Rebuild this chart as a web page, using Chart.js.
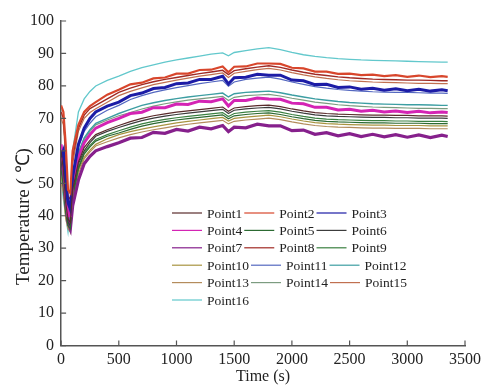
<!DOCTYPE html>
<html>
<head>
<meta charset="UTF-8">
<title>Temperature</title>
<style>
  body { margin: 0; background: #fff; }
  #wrap { width: 482px; height: 388px; }
</style>
</head>
<body>
<div id="wrap"><canvas id="myChart" width="482" height="388"></canvas></div>
<script src="https://cdn.jsdelivr.net/npm/chart.js@4.4.1/dist/chart.umd.min.js"></script>
<script>
// sample times (s)
const times = [0,20,40,60,80,100,150,200,250,300,400,500,600,700,800,900,1000,1100,1200,1300,1400,1450,1500,1600,1700,1800,1900,2000,2100,2200,2300,2400,2500,2600,2700,2800,2900,3000,3100,3200,3300,3350];

const labels = ['Point1','Point2','Point3','Point4','Point5','Point6','Point7','Point8','Point9','Point10','Point11','Point12','Point13','Point14','Point15','Point16'];

// temperatures (deg C)
const point1  = [60,54,44,39,38,48,56.5,61,63.2,65,66.5,67.8,69,70,70.8,71.4,71.9,72.3,72.7,73.1,73.5,72.2,73.2,73.6,73.9,74.1,73.6,72.9,72.3,71.8,71.5,71.3,71.2,71.1,71,71,70.9,70.9,70.8,70.8,70.8,70.7];
const point2  = [74,72,62,48,47,60,68,72,73.8,75,77.3,78.8,80.5,81,82.3,82.6,83.8,83.8,84.9,85,86,84.2,85.9,86,86.9,86.9,86.8,85.6,85.4,84.4,84.4,83.7,83.8,83.3,83.5,83,83.3,82.8,83.2,82.7,83,82.8];
const point3  = [58,60,50,44,42,52,62,67,70,72,73.8,75,77,77.8,79.2,79.5,80.7,80.9,82,82,83,80.6,82.5,82.7,83.6,83.3,83.3,81.8,81.6,80.4,80.5,79.5,79.7,79,79.3,78.7,79.1,78.5,79,78.4,78.8,78.5];
const point4  = [62,56,46,40,40,50,58,62.5,65,67,68.7,70,71.5,71.9,73.3,73.3,74.4,74.3,75.3,75.1,76,73.8,75.5,75.5,76.3,76,75.9,74.7,74.5,73.4,73.4,72.6,72.8,72.2,72.5,72,72.3,71.8,72.2,71.7,72,71.8];
const point5  = [54,49,41,37,36,46,54.5,59,61.2,63,64.5,65.5,66.6,67.6,68.4,69,69.5,69.9,70.3,70.7,71.1,69.9,70.8,71.2,71.5,71.7,71.2,70.5,69.9,69.4,69.1,68.9,68.8,68.7,68.6,68.6,68.5,68.5,68.5,68.4,68.4,68.4];
const point6  = [57,52,43,38,37,47,56,60,62.5,64.5,66,67.2,68.3,69.3,70.1,70.7,71.2,71.6,72,72.4,72.8,71.5,72.5,72.9,73.2,73.4,72.9,72.2,71.6,71.1,70.8,70.6,70.5,70.4,70.3,70.3,70.2,70.2,70.1,70.1,70.1,70];
const point7  = [60,52,44,38,36,43,51,56,58.3,60,61.3,62.5,63.9,64.1,65.7,65.4,66.6,66.1,67.3,66.8,67.8,65.9,67.3,67.1,68.2,67.7,67.7,66.2,66.4,65.1,65.6,64.6,65.3,64.4,65.1,64.3,65,64.2,64.9,64.1,64.8,64.4];
const point8  = [72,70,60,46,45,58,67,71,73,74,76,78,79.3,80.4,81.3,82,82.6,83.2,83.8,84.3,84.8,83.5,84.7,85.3,85.8,86.2,85.7,84.9,84.2,83.6,83.2,82.8,82.5,82.3,82.1,82,81.9,81.8,81.8,81.7,81.6,81.6];
const point9  = [55,50,42,37,36,46,55,59.5,61.7,63.5,65,66.2,67.3,68.3,69.1,69.7,70.2,70.6,71,71.4,71.8,70.6,71.5,71.9,72.2,72.4,71.9,71.2,70.6,70.1,69.8,69.6,69.5,69.4,69.3,69.3,69.2,69.2,69.1,69.1,69.1,69];
const point10 = [52,48,40,37,35,45,54,58,60.2,62,63.7,65,65.9,66.7,67.4,68,68.6,69.1,69.5,69.9,70.3,69.2,70,70.4,70.7,71,70.5,69.8,69.2,68.7,68.4,68.2,68.1,68,67.9,67.9,67.8,67.8,67.8,67.7,67.7,67.7];
const point11 = [55,57,48,42,40,50,61,66,68.5,70.5,72.5,74,75.8,77,78,78.8,79.5,80.1,80.7,81.2,81.7,79.9,81.2,82,82.4,82.7,82.1,81.2,80.5,79.8,79.3,78.9,78.6,78.4,78.2,78.1,78,78,77.9,77.8,77.8,77.7];
const point12 = [60,55,45,38,40,51,59.5,64,66.5,68.5,70,71.5,72.8,74,74.8,75.5,76.1,76.6,77,77.4,77.8,76.6,77.6,78,78.2,78.4,77.9,77.2,76.6,76,75.6,75.2,74.9,74.7,74.5,74.4,74.3,74.2,74.2,74.1,74,74];
const point13 = [50,47,39,36,35,44,53,57.5,59.7,61.5,62.8,64,65,65.8,66.5,67.1,67.7,68.2,68.6,69,69.4,68.3,69.1,69.5,69.8,70.1,69.6,68.9,68.3,67.8,67.5,67.3,67.2,67.1,67,67,66.9,66.9,66.9,66.8,66.8,66.8];
const point14 = [58,53,44,38,39,50,59,63.5,66,68,69.5,70.8,71.8,72.9,73.8,74.5,75.1,75.6,76,76.4,76.8,75.5,76.5,77,77.2,77.4,76.9,76.2,75.6,75,74.6,74.2,73.9,73.7,73.5,73.4,73.3,73.2,73.1,73.1,73,73];
const point15 = [70,68,58,45,44,56,66,70,71.8,73,75,77,78.3,79.4,80.4,81.1,81.8,82.4,83,83.5,84,82.6,83.9,84.5,85,85.4,84.9,84.1,83.4,82.8,82.3,81.9,81.6,81.4,81.2,81.1,81,80.9,80.8,80.8,80.7,80.7];
const point16 = [52,45,40,35,42,60,72,76,78.3,80,81.7,83,84.5,85.6,86.5,87.3,88,88.6,89.2,89.8,90.2,89.3,90.3,90.9,91.4,91.8,91.2,90.3,89.6,89.1,88.7,88.4,88.2,88,87.9,87.8,87.7,87.6,87.5,87.4,87.3,87.3];

const series = [point1,point2,point3,point4,point5,point6,point7,point8,point9,point10,point11,point12,point13,point14,point15,point16];
const colors = ['#5a2c2c','#d8462c','#1c1ca6','#d424b4','#2c6a32','#3c3c3c','#86208c','#a02a24','#3a8040','#a89440','#5468c0','#3c9ea2','#b48c5c','#7c9c80','#c07050','#62c8cc'];
const widths = [1.2,2.2,3,3,1.2,1.2,3.2,1.4,1.2,1.2,1.2,1.4,1.2,1.2,1.2,1.3];

const serif = "'Liberation Serif', 'Times New Roman', serif";

// inward tick marks on both axes
const innerTicks = {
  id: 'innerTicks',
  afterDraw(chart) {
    const c = chart.ctx;
    const xs = chart.scales.x, ys = chart.scales.y;
    c.save();
    c.strokeStyle = '#555';
    c.lineWidth = 1.2;
    c.beginPath();
    xs.ticks.forEach(t => {
      const px = xs.getPixelForValue(t.value);
      c.moveTo(px, xs.top); c.lineTo(px, xs.top - 5);
    });
    ys.ticks.forEach(t => {
      const py = ys.getPixelForValue(t.value);
      c.moveTo(ys.right, py); c.lineTo(ys.right + 5, py);
    });
    c.stroke();
    c.restore();
  }
};

// legend drawn inside the plot, 3 items per row
const innerLegend = {
  id: 'innerLegend',
  afterDraw(chart) {
    const c = chart.ctx;
    const x0 = 172, y0 = 213, rowH = 17.4, lineLen = 30;
    let lx = x0;
    c.save();
    c.font = '13.5px ' + serif;
    c.textBaseline = 'middle';
    chart.data.datasets.forEach((ds, i) => {
      const row = Math.floor(i / 3);
      if (i % 3 === 0) lx = x0;
      const y = y0 + row * rowH;
      c.strokeStyle = ds.borderColor;
      c.lineWidth = 1.2;
      c.beginPath();
      c.moveTo(lx, y); c.lineTo(lx + lineLen, y);
      c.stroke();
      c.fillStyle = '#222';
      c.fillText(ds.label, lx + lineLen + 5, y + 1);
      lx += lineLen + 5 + c.measureText(ds.label).width + 2;
    });
    c.restore();
  }
};

const datasets = series.map((vals, i) => ({
  label: labels[i],
  data: times.map((t, k) => ({x: t, y: vals[k]})),
  borderColor: colors[i],
  borderWidth: widths[i],
  pointRadius: 0,
  tension: 0,
  fill: false
}));

const ctx = document.getElementById('myChart').getContext('2d');
new Chart(ctx, {
  type: 'line',
  data: { datasets: datasets },
  options: {
    responsive: false,
    animation: false,
    layout: { padding: { left: 13, top: 21, right: 0, bottom: 2 } },
    scales: {
      x: {
        type: 'linear',
        min: 0, max: 3500,
        border: { color: '#555', width: 1.5 },
        grid: { drawOnChartArea: false, drawTicks: false },
        ticks: { stepSize: 500, padding: 5, color: '#222', font: { family: serif, size: 16 }, callback: v => String(v) },
        title: { display: true, text: 'Time (s)', color: '#222', padding: { top: -8, bottom: 0 }, font: { family: serif, size: 16 } },
        afterFit: scale => { scale.paddingRight = 17; }
      },
      y: {
        min: 0, max: 100,
        border: { color: '#555', width: 1.5 },
        grid: { drawOnChartArea: false, drawTicks: false },
        ticks: { stepSize: 10, padding: 7, color: '#222', font: { family: serif, size: 16 } },
        title: { display: true, text: 'Temperature ( \u2103)              ', color: '#222', padding: { top: 0, bottom: -12.7 }, font: { family: serif, size: 19 } }
      }
    },
    plugins: {
      legend: { display: false },
      tooltip: { enabled: false }
    }
  },
  plugins: [innerTicks, innerLegend]
});
</script>
</body>
</html>
